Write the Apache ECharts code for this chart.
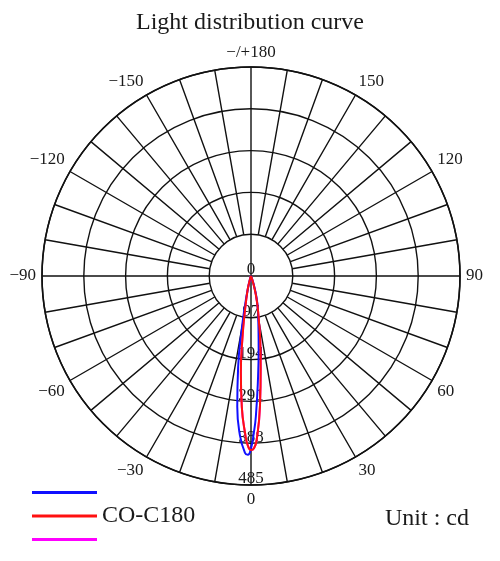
<!DOCTYPE html>
<html>
<head>
<meta charset="utf-8">
<script src="https://cdn.jsdelivr.net/npm/echarts@6/dist/echarts.min.js"></script>
<style>html,body{margin:0;padding:0;background:#fff}#c{width:500px;height:561px}</style>
</head>
<body>
<div id="c"></div>
<script>
// Angles in degrees (0 = straight down, positive to the right)
const angles = [-30, -20, -16, -14, -12, -10, -8, -6, -4, -2, -1, 0, 1, 2, 4, 6, 8, 10, 12, 14, 16, 18, 20, 30];
// Intensities in cd
const seriesC0   = [0, 3, 12, 28, 60, 120, 215, 305, 370, 410, 415, 400, 365, 325, 235, 170, 125, 95, 75, 55, 35, 18, 6, 0];
const seriesC180 = [0, 4, 15, 30, 48, 80, 140, 225, 305, 370, 395, 404, 400, 380, 300, 215, 155, 105, 75, 50, 28, 14, 5, 0];
const seriesC90  = [0, 4, 15, 30, 48, 80, 140, 225, 305, 370, 395, 404, 400, 380, 300, 215, 155, 105, 75, 50, 28, 14, 5, 0];
const radialTicks = [0, 97, 194, 291, 388, 485];
const angleLabelStep = 30;

const FONT = 'Liberation Serif';
const chart = echarts.init(document.getElementById('c'));
const toPolar = vals => angles.map((a, i) => [vals[i], (a + 360) % 360]);
const angleFmt = v => {
  if (v === 360) return '';
  if (v === 0) return '0';
  if (v === 180) return '\u2212/+180';
  return v < 180 ? String(v) : '\u2212' + (360 - v);
};
const CX = 251, CY = 276, R = 209, RIN = 42;
const GRID = {color: '#111', width: 1.4};

chart.setOption({
  animation: false,
  backgroundColor: '#fff',
  title: {
    text: 'Light distribution curve', left: 'center', top: 6,
    textStyle: {fontFamily: FONT, fontSize: 24, fontWeight: 'normal', color: '#1a1a1a'}
  },
  polar: [
    {center: [CX, CY], radius: [0, R]},
    {center: [CX, CY], radius: [RIN, R]},
    {center: [CX, CY], radius: [0, RIN]}
  ],
  angleAxis: [
    {polarIndex: 0, type: 'value', min: 0, max: 360, interval: angleLabelStep, startAngle: 270, clockwise: false,
     axisLine: {show: true, lineStyle: {color: '#111', width: 1.6}},
     axisTick: {show: false}, splitLine: {show: false},
     axisLabel: {formatter: angleFmt, fontFamily: FONT, fontSize: 17, color: '#1a1a1a', margin: 6}},
    {polarIndex: 1, type: 'value', min: 0, max: 360, interval: 10, startAngle: 270, clockwise: false,
     axisLine: {show: false}, axisTick: {show: false}, axisLabel: {show: false},
     splitLine: {show: true, lineStyle: GRID}},
    {polarIndex: 2, type: 'value', min: 0, max: 360, interval: 90, startAngle: 270, clockwise: false,
     axisLine: {show: false}, axisTick: {show: false}, axisLabel: {show: false},
     splitLine: {show: true, lineStyle: GRID}}
  ],
  radiusAxis: [
    {polarIndex: 0, type: 'value', min: radialTicks[0], max: radialTicks[radialTicks.length - 1], interval: radialTicks[1] - radialTicks[0],
     axisLine: {show: false}, axisTick: {show: false},
     splitLine: {show: true, lineStyle: GRID},
     axisLabel: {fontFamily: FONT, fontSize: 17, lineHeight: 12, color: '#1a1a1a', margin: 0, align: 'center', verticalAlign: 'bottom'}},
    {polarIndex: 1, type: 'value', min: 0, max: 1, show: false},
    {polarIndex: 2, type: 'value', min: 0, max: 1, show: false}
  ],
  legend: [
    {data: ['C0'], left: 27, top: 486, orient: 'vertical', icon: 'rect', itemWidth: 65, itemHeight: 3,
     formatter: () => '', textStyle: {fontFamily: FONT, fontSize: 24, color: '#1a1a1a'}},
    {data: ['CO-C180'], left: 27, top: 499, orient: 'vertical', icon: 'rect', itemWidth: 65, itemHeight: 3,
     textStyle: {fontFamily: FONT, fontSize: 24, color: '#1a1a1a'}},
    {data: ['C90'], left: 27, top: 533, orient: 'vertical', icon: 'rect', itemWidth: 65, itemHeight: 3,
     formatter: () => '', textStyle: {fontFamily: FONT, fontSize: 24, color: '#1a1a1a'}}
  ],
  graphic: [
    {type: 'text', left: 385, top: 507,
     style: {text: 'Unit : cd', font: '24px "Liberation Serif"', fill: '#1a1a1a'}}
  ],
  series: [
    {name: 'C90', type: 'line', coordinateSystem: 'polar', polarIndex: 0, data: toPolar(seriesC90),
     smooth: true, showSymbol: false, color: '#ff00ff', lineStyle: {width: 2}, z: 3},
    {name: 'C0', type: 'line', coordinateSystem: 'polar', polarIndex: 0, data: toPolar(seriesC0),
     smooth: true, showSymbol: false, color: '#1010ff', lineStyle: {width: 2}, z: 4},
    {name: 'CO-C180', type: 'line', coordinateSystem: 'polar', polarIndex: 0, data: toPolar(seriesC180),
     smooth: true, showSymbol: false, color: '#ff1010', lineStyle: {width: 2}, z: 5}
  ]
});
</script>
</body>
</html>
